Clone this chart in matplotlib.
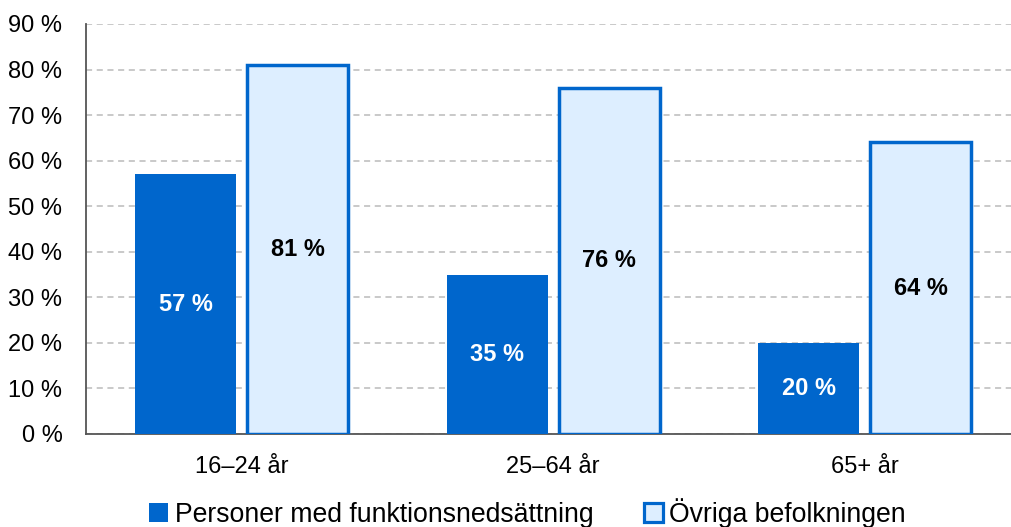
import matplotlib
matplotlib.use("Agg")
import matplotlib.pyplot as plt
import numpy as np
from matplotlib.patches import Patch

categories = ["16–24 år", "25–64 år", "65+ år"]
series_names = ["Personer med funktionsnedsättning", "Övriga befolkningen"]
funk = [57, 35, 20]
ovriga = [81, 76, 64]
yticks = [0, 10, 20, 30, 40, 50, 60, 70, 80, 90]

plt.rcParams['font.family'] = ['Liberation Sans', 'DejaVu Sans']

dark = "#0066CC"
light = "#DDEEFF"

fig = plt.figure(figsize=(10.11, 5.27), dpi=100)
ax = fig.add_axes([86/1011, (527-434)/527, 1 - 86/1011, (434-24)/527])

x = np.arange(len(categories))
w = 0.325
off = 0.18
ax.bar(x - off, funk, width=w, color=dark, edgecolor=dark, linewidth=0, zorder=3)
ax.bar(x + off, ovriga, width=w, color=light, edgecolor=dark, linewidth=2.5, zorder=3)

for xi, v in zip(x, funk):
    ax.text(xi - off, v / 2, f"{v} %", ha="center", va="center", color="white",
            fontsize=17, fontweight="bold", zorder=4)
for xi, v in zip(x, ovriga):
    ax.text(xi + off, v / 2, f"{v} %", ha="center", va="center", color="black",
            fontsize=17, fontweight="bold", zorder=4)

ax.set_ylim(0, 90)
ax.set_xlim(-0.5, 2.47)
ax.set_yticks(yticks)
ax.set_yticklabels([f"{t} %" for t in yticks], fontsize=17)
ax.set_xticks(x)
ax.set_xticklabels(categories, fontsize=17)
ax.tick_params(axis="both", length=0)
ax.tick_params(axis="x", pad=16)
ax.tick_params(axis="y", pad=17)
ax.yaxis.grid(True, linestyle=(0, (4, 3)), color="#BBBBBB", linewidth=1.1, zorder=0)
ax.set_axisbelow(True)
for s in ["top", "right"]:
    ax.spines[s].set_visible(False)
for s in ["left", "bottom"]:
    ax.spines[s].set_color("#555555")
    ax.spines[s].set_linewidth(1.3)

handles = [Patch(facecolor=dark, edgecolor=dark, linewidth=0),
           Patch(facecolor=light, edgecolor=dark, linewidth=2.3)]
fig.legend(handles, series_names, loc="center",
           bbox_to_anchor=(0.522, (527-513)/527), bbox_transform=fig.transFigure,
           ncol=2, frameon=False, fontsize=19.2,
           handlelength=0.7, handleheight=0.7, handletextpad=0.25, columnspacing=1.9)

fig.savefig("out.png", dpi=100)
